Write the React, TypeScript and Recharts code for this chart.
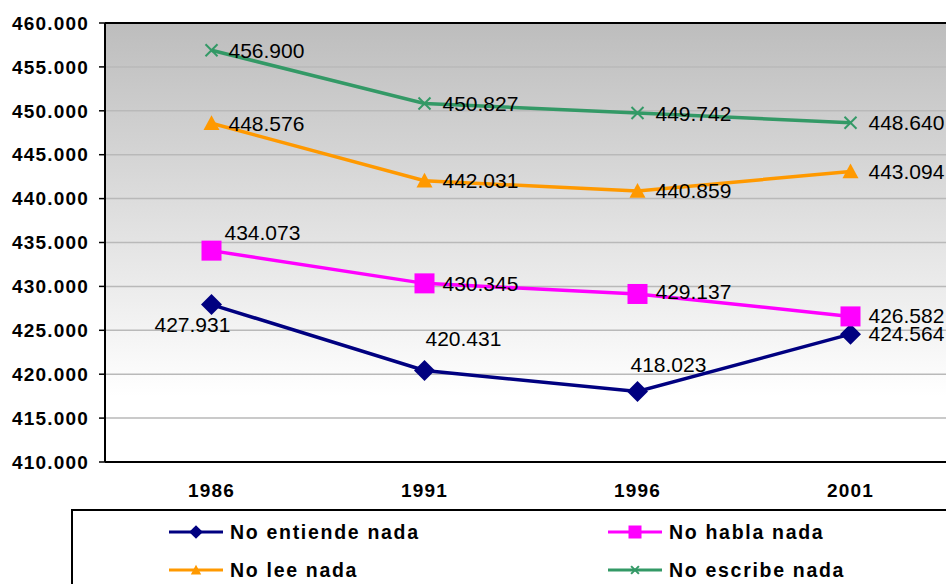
import React from "react";
import { LineChart, Line, XAxis, YAxis, CartesianGrid, ReferenceLine, LabelList } from "recharts";

const years = ["1986", "1991", "1996", "2001"];
const noEntiende = [427931, 420431, 418023, 424564];
const noHabla = [434073, 430345, 429137, 426582];
const noLee = [448576, 442031, 440859, 443094];
const noEscribe = [456900, 450827, 449742, 448640];
const yTicks = [410000, 415000, 420000, 425000, 430000, 435000, 440000, 445000, 450000, 455000, 460000];

const FONT = "'Liberation Sans', Arial, sans-serif";

if (typeof document !== "undefined") document.body.style.margin = "0";

const fmt = (v: number) => String(v).replace(/\B(?=(\d{3})+(?!\d))/g, ".");

type Shape = "diamond" | "square" | "triangle" | "cross";

function Marker({ shape, cx, cy, color, s = 1 }: { shape: Shape; cx: number; cy: number; color: string; s?: number }) {
  if (shape === "diamond") {
    const r = 10.5 * s;
    return <polygon points={`${cx},${cy - r} ${cx + r},${cy} ${cx},${cy + r} ${cx - r},${cy}`} fill={color} />;
  }
  if (shape === "square") {
    const r = 10 * s;
    return <rect x={cx - r} y={cy - r} width={r * 2} height={r * 2} fill={color} />;
  }
  if (shape === "triangle") {
    const r = 8 * s;
    return <polygon points={`${cx},${cy - r} ${cx + r},${cy + r * 0.85} ${cx - r},${cy + r * 0.85}`} fill={color} />;
  }
  const r = 6 * s;
  return (
    <g stroke={color} strokeWidth={2}>
      <line x1={cx - r} y1={cy - r} x2={cx + r} y2={cy + r} />
      <line x1={cx - r} y1={cy + r} x2={cx + r} y2={cy - r} />
    </g>
  );
}

// label offsets from the point: [dx to text start, dy to text middle]
const series = [
  { key: "entiende", name: "No entiende nada", values: noEntiende, color: "#000080", shape: "diamond" as Shape,
    offsets: [[-57, 20], [1, -32], [-7, -27], [18, -1]] },
  { key: "habla", name: "No habla nada", values: noHabla, color: "#FF00FF", shape: "square" as Shape,
    offsets: [[13, -18], [18, 0], [18, -2], [18, -1]] },
  { key: "lee", name: "No lee nada", values: noLee, color: "#FF9900", shape: "triangle" as Shape,
    offsets: [[17, 0], [18, 0], [18, -1], [18, 0]] },
  { key: "escribe", name: "No escribe nada", values: noEscribe, color: "#339966", shape: "cross" as Shape,
    offsets: [[17, 0], [18, 0], [18, 0], [18, 0]] },
];

const data = years.map((year, i) => {
  const row: Record<string, string | number> = { year, idx: i + 0.5 };
  series.forEach((s) => { row[s.key] = s.values[i]; });
  return row;
});

const axisTick = { fontSize: 19, fontWeight: "bold", fill: "#000", fontFamily: FONT, letterSpacing: 1.2 };

function LegendBox() {
  return (
    <div style={{
      position: "absolute", left: 71, top: 509, width: 873, height: 90,
      border: "2px solid #000", background: "#fff", fontFamily: FONT,
    }}>
      {series.map((s, i) => (
        <div key={s.key} style={{
          position: "absolute", left: i % 2 === 0 ? 95 : 534, top: i < 2 ? 8 : 46,
          display: "flex", alignItems: "center", height: 26,
        }}>
          <svg width={56} height={20}>
            <line x1={1} y1={10} x2={55} y2={10} stroke={s.color} strokeWidth={3} />
            <Marker shape={s.shape} cx={28} cy={10} color={s.color} s={0.65} />
          </svg>
          <span style={{ marginLeft: 6, fontSize: 19.5, fontWeight: "bold", letterSpacing: 1.7, color: "#000" }}>{s.name}</span>
        </div>
      ))}
    </div>
  );
}

export default function App() {
  return (
    <div style={{ position: "relative", width: 946, height: 584, overflow: "hidden", background: "#fff" }}>
      <LineChart width={957} height={584} data={data} margin={{ top: 23, right: 0, bottom: 82, left: 0 }}>
        <defs>
          <linearGradient id="bgGrad" x1="0" y1="0" x2="0" y2="1">
            <stop offset="0%" stopColor="#bdbdbd" />
            <stop offset="85%" stopColor="#ffffff" />
            <stop offset="100%" stopColor="#ffffff" />
          </linearGradient>
        </defs>
        <CartesianGrid vertical={false} fill="url(#bgGrad)" stroke="#b9b9b9" strokeWidth={1.5} fillOpacity={1} />
        <XAxis
          xAxisId="bounds" type="number" dataKey="idx" domain={[0, 4]} ticks={[0, 1, 2, 3, 4]}
          axisLine={false} tickLine={{ stroke: "#000", strokeWidth: 1.5 }} tickSize={6}
          tickFormatter={() => ""} height={0} allowDataOverflow
        />
        <XAxis
          dataKey="year" padding={{ left: 106.5, right: 106.5 }} height={40}
          axisLine={{ stroke: "#000", strokeWidth: 2 }} tickLine={false}
          tick={axisTick}
          dy={14}
        />
        <YAxis
          width={105} domain={[410000, 460000]} ticks={yTicks} tickFormatter={fmt} interval={0}
          axisLine={{ stroke: "#000", strokeWidth: 2 }} tickLine={{ stroke: "#000", strokeWidth: 1.5 }} tickSize={6}
          tickMargin={10}
          tick={axisTick}
        />
        <ReferenceLine y={460000} stroke="#000" strokeWidth={2} />
        {series.map((s) => (
          <Line
            key={s.key} dataKey={s.key} name={s.name} type="linear" stroke={s.color} strokeWidth={3.5}
            isAnimationActive={false}
            dot={(p: any) => <Marker key={`${s.key}-${p.index}`} shape={s.shape} cx={p.cx} cy={p.cy} color={s.color} />}
            activeDot={false}
          >
            <LabelList
              dataKey={s.key}
              content={(p: any) => {
                const [dx, dy] = s.offsets[p.index] ?? [18, 0];
                return (
                  <text x={p.x + dx} y={p.y + dy} dominantBaseline="central" textAnchor="start"
                    fontSize={21} fontFamily={FONT} fill="#000">
                    {fmt(Number(p.value))}
                  </text>
                );
              }}
            />
          </Line>
        ))}
      </LineChart>
      <LegendBox />
    </div>
  );
}
